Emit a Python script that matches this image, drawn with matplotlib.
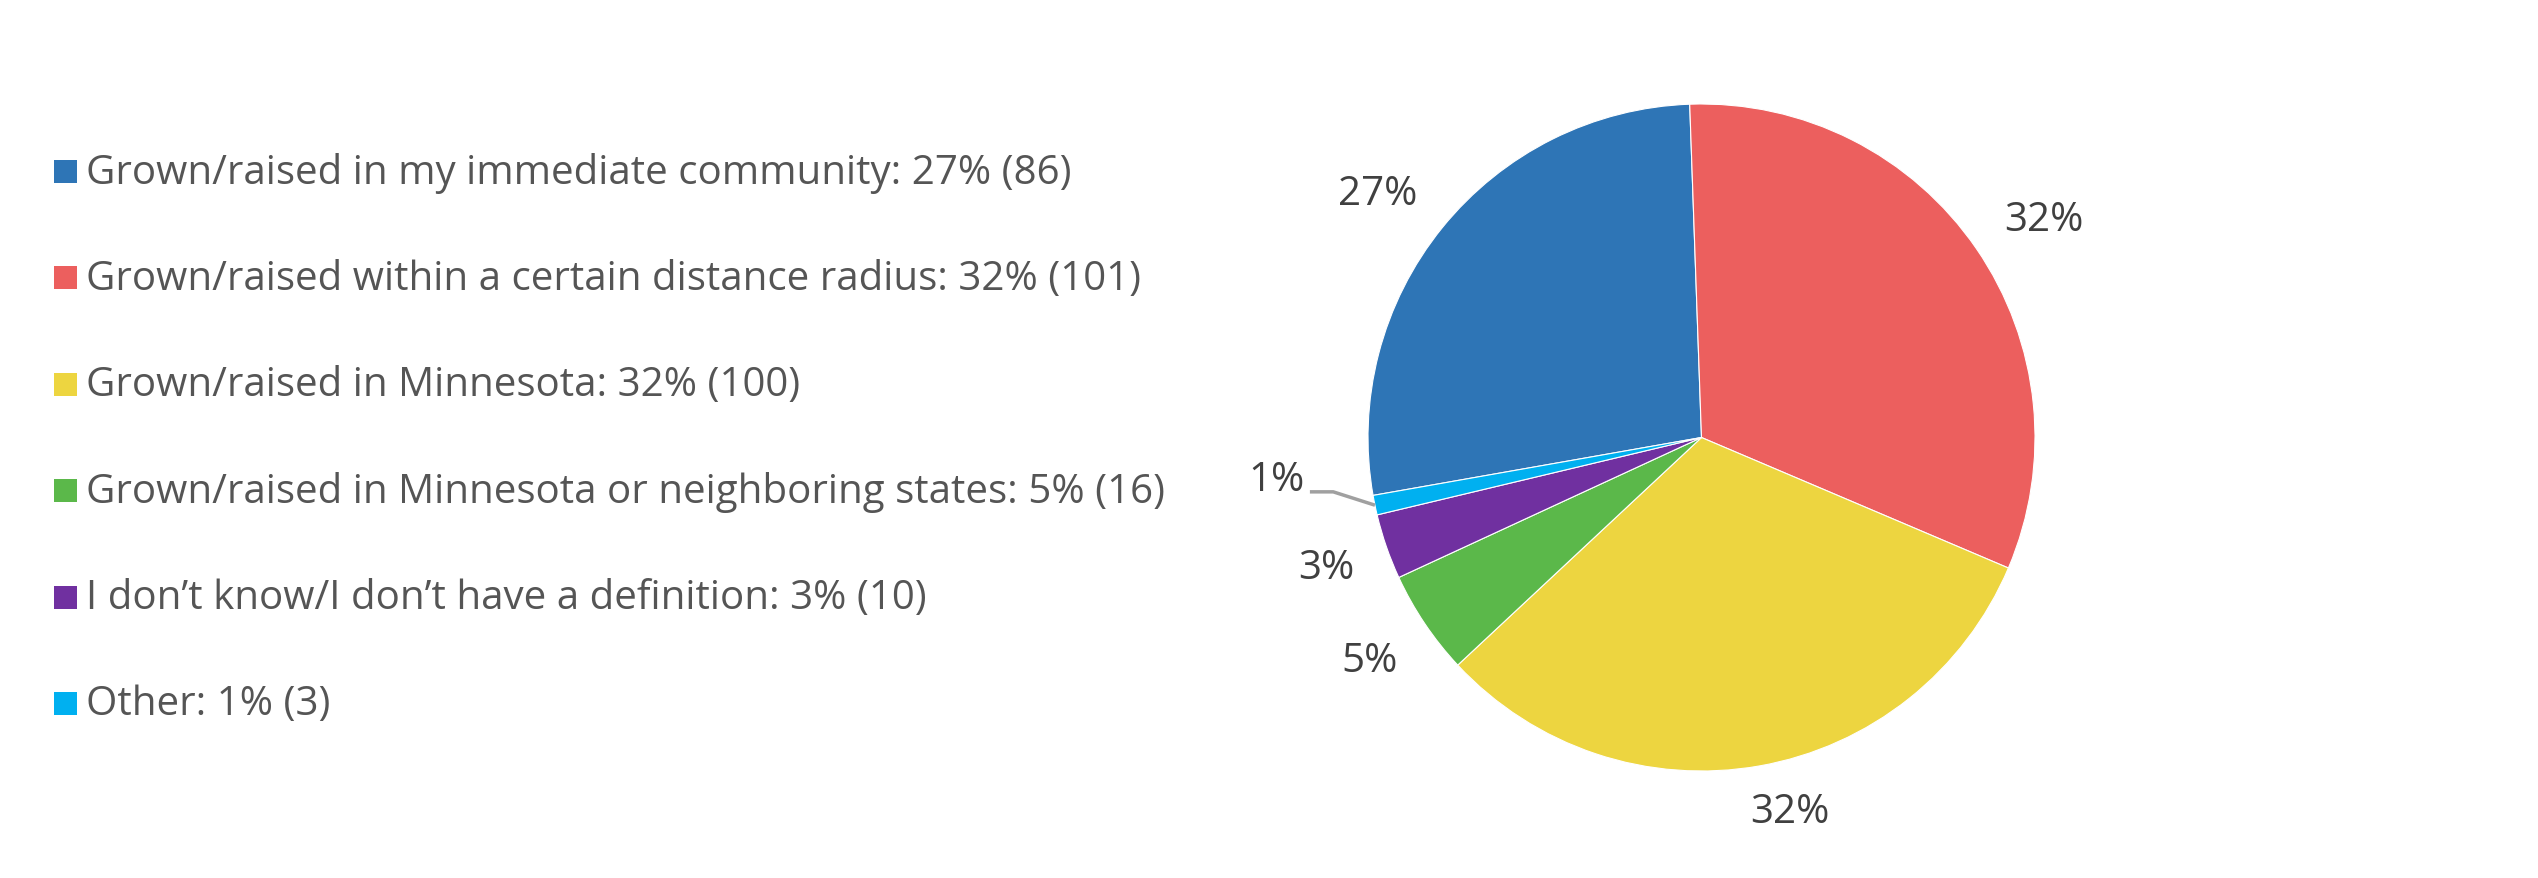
import numpy as np
import matplotlib
matplotlib.use("Agg")
import matplotlib.pyplot as plt
from matplotlib.patches import Rectangle

categories = [
    "Grown/raised in my immediate community",
    "Grown/raised within a certain distance radius",
    "Grown/raised in Minnesota",
    "Grown/raised in Minnesota or neighboring states",
    "I don\u2019t know/I don\u2019t have a definition",
    "Other",
]
counts = [86, 101, 100, 16, 10, 3]
percents = [27, 32, 32, 5, 3, 1]
colors = ["#2E75B6", "#EC5F5E", "#EDD540", "#5BB84A", "#7030A0", "#00B0F0"]

W, H = 2538, 879
dpi = 100
plt.rcParams['font.family'] = ['Open Sans', 'DejaVu Sans']
fig = plt.figure(figsize=(W / dpi, H / dpi), dpi=dpi)
fig.patch.set_facecolor("white")

# Pie axes
cx, cy, r = 1701.5, 438.5, 333.5
ax = fig.add_axes([(cx - r) / W, (H - cy - r) / H, 2 * r / W, 2 * r / H])

wedges, texts = ax.pie(
    counts, colors=colors, startangle=190, counterclock=False, radius=1.0,
    labels=[f"{p}%" for p in percents], labeldistance=1.2,
    wedgeprops=dict(edgecolor="white", linewidth=0.8),
    textprops=dict(fontsize=29, color="#404040"),
)
ax.set_xlim(-1, 1)
ax.set_ylim(-1, 1)
ax.set_aspect("equal")
ax.axis("off")
for t in texts:
    t.set_ha("center")
    t.set_va("center")

# adjust individual label placement (distance, angular shift)
label_dist = [1.217, 1.216, 1.152, 1.2, 1.19, None]
label_shift = [2.0, -2.0, 3.3, 0.0, 0.0, 0.0]
for w, t, d, s in zip(wedges, texts, label_dist, label_shift):
    ang = np.deg2rad((w.theta1 + w.theta2) / 2 + s)
    if d is not None:
        t.set_position((d * np.cos(ang), d * np.sin(ang)))

# small slice label with connector
w = wedges[-1]
ang = np.deg2rad((w.theta1 + w.theta2) / 2)
ex, ey = np.cos(ang), np.sin(ang)
lx, ly = ex - 0.195, ey + 0.04
ax.plot([ex, lx + 0.07, lx], [ey, ly, ly], color="#A0A0A0", lw=2.5,
        clip_on=False, solid_capstyle="butt")
texts[-1].set_position((lx - 0.1, ly + 0.035))

# Legend
y0 = 172
step = 106.4
for i, (cat, col, p, n) in enumerate(zip(categories, colors, percents, counts)):
    yc = y0 + i * step
    fig.patches.append(Rectangle((54 / W, 1 - (yc + 12) / H), 23 / W, 23 / H,
                                 transform=fig.transFigure, facecolor=col,
                                 edgecolor="none"))
    fig.text(86 / W, 1 - (yc + 1) / H, f"{cat}: {p}% ({n})", fontsize=29,
             color="#555555", va="center", ha="left")

fig.savefig("out.png", dpi=dpi, facecolor="white")
